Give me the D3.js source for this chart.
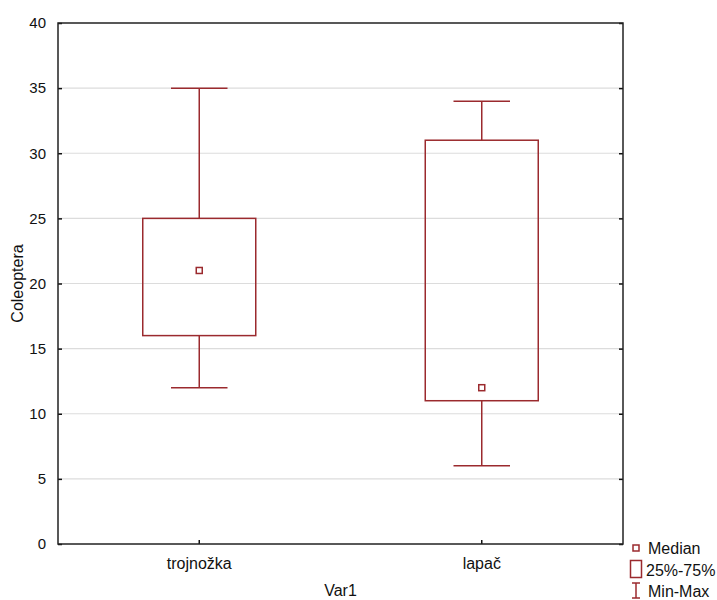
<!DOCTYPE html>
<html>
<head>
<meta charset="utf-8">
<script src="https://cdn.jsdelivr.net/npm/d3@7"></script>
<style>
  body { margin: 0; background: #fff; }
  text { font-family: "Liberation Sans", Arial, sans-serif; fill: #111; }
</style>
</head>
<body>
<div id="chart"></div>
<script>
const CATEGORIES = ["trojnožka", "lapač"];
const MIN    = [12, 6];
const Q1     = [16, 11];
const MEDIAN = [21, 12];
const Q3     = [25, 31];
const MAX    = [35, 34];
const Y_TICKS = [0, 5, 10, 15, 20, 25, 30, 35, 40];

const MARGIN = { top: 23, bottom: 56, left: 58, right: 94 };
const WIDTH = 717 - MARGIN.left - MARGIN.right;
const HEIGHT = 600 - MARGIN.top - MARGIN.bottom;
const COLOR = "#9b2a2e";

const boxes = CATEGORIES.map((c, i) => ({
    name: c, min: MIN[i], q1: Q1[i], median: MEDIAN[i], q3: Q3[i], max: MAX[i]
}));

const svg = d3.select("#chart")
    .append("svg")
        .attr("width", 717)
        .attr("height", 600);
const g = svg.append("g")
        .attr("transform", `translate(${MARGIN.left}, ${MARGIN.top})`);

// SCALES
const y = d3.scaleLinear()
    .domain([0, 40])
    .range([HEIGHT, 0]);
const x = d3.scaleBand()
    .domain(CATEGORIES)
    .range([0, WIDTH])
    .paddingInner(0)
    .paddingOuter(0);
const boxW = WIDTH * 0.2;
const capW = boxW / 2;

// GRID
g.append("g")
    .selectAll("line")
    .data(Y_TICKS.filter(t => t > 0 && t < 40))
    .enter().append("line")
        .attr("x1", 0).attr("x2", WIDTH)
        .attr("y1", d => y(d)).attr("y2", d => y(d))
        .attr("stroke", "#dcdcdc")
        .attr("stroke-width", 1.2);

// AXES (ticks inward)
const yAxis = g.append("g")
    .call(d3.axisLeft(y).tickValues(Y_TICKS).tickSize(-4).tickPadding(12));
yAxis.select(".domain").remove();
yAxis.selectAll("text").style("font-size", "15px");
yAxis.selectAll("line").attr("stroke", "#111").attr("stroke-width", 1.5);

const yAxisR = g.append("g")
    .attr("transform", `translate(${WIDTH}, 0)`)
    .call(d3.axisRight(y).tickValues(Y_TICKS).tickSize(-4).tickFormat(""));
yAxisR.select(".domain").remove();
yAxisR.selectAll("line").attr("stroke", "#111").attr("stroke-width", 1.5);

const xAxis = g.append("g")
    .attr("transform", `translate(0, ${HEIGHT})`)
    .call(d3.axisBottom(x).tickSize(-4).tickPadding(14));
xAxis.select(".domain").remove();
xAxis.selectAll("text").style("font-size", "16px");
xAxis.selectAll("line").attr("stroke", "#111").attr("stroke-width", 1.5);

// FRAME
g.append("rect")
    .attr("x", 0).attr("y", 0)
    .attr("width", WIDTH).attr("height", HEIGHT)
    .attr("fill", "none")
    .attr("stroke", "#222")
    .attr("stroke-width", 1.5);

// AXIS TITLES
g.append("text")
    .attr("x", WIDTH / 2)
    .attr("y", HEIGHT + 52)
    .attr("text-anchor", "middle")
    .style("font-size", "16px")
    .text("Var1");
g.append("text")
    .attr("transform", "rotate(-90)")
    .attr("x", -(y(20)))
    .attr("y", -35)
    .attr("text-anchor", "middle")
    .style("font-size", "16px")
    .text("Coleoptera");

// BOXES
const bx = g.selectAll(".box")
    .data(boxes)
    .enter().append("g")
        .attr("class", "box")
        .attr("transform", d => `translate(${x(d.name) + x.bandwidth() / 2}, 0)`);

bx.append("line")
    .attr("x1", 0).attr("x2", 0)
    .attr("y1", d => y(d.max)).attr("y2", d => y(d.q3))
    .attr("stroke", COLOR).attr("stroke-width", 1.5);
bx.append("line")
    .attr("x1", 0).attr("x2", 0)
    .attr("y1", d => y(d.q1)).attr("y2", d => y(d.min))
    .attr("stroke", COLOR).attr("stroke-width", 1.5);
bx.append("line")
    .attr("x1", -capW / 2).attr("x2", capW / 2)
    .attr("y1", d => y(d.max)).attr("y2", d => y(d.max))
    .attr("stroke", COLOR).attr("stroke-width", 1.5);
bx.append("line")
    .attr("x1", -capW / 2).attr("x2", capW / 2)
    .attr("y1", d => y(d.min)).attr("y2", d => y(d.min))
    .attr("stroke", COLOR).attr("stroke-width", 1.5);
bx.append("rect")
    .attr("x", -boxW / 2)
    .attr("y", d => y(d.q3))
    .attr("width", boxW)
    .attr("height", d => y(d.q1) - y(d.q3))
    .attr("fill", "none")
    .attr("stroke", COLOR).attr("stroke-width", 1.5);
bx.append("rect")
    .attr("x", -3)
    .attr("y", d => y(d.median) - 3)
    .attr("width", 6).attr("height", 6)
    .attr("fill", "#fff")
    .attr("stroke", COLOR).attr("stroke-width", 1.5);

// LEGEND
const lg = svg.append("g").attr("transform", "translate(630, 540)");
lg.append("rect")
    .attr("x", 3).attr("y", 5).attr("width", 6).attr("height", 6)
    .attr("fill", "#fff").attr("stroke", COLOR).attr("stroke-width", 1.5);
lg.append("text").attr("x", 18).attr("y", 14).style("font-size", "16px").text("Median");
lg.append("rect")
    .attr("x", 0.5).attr("y", 20.5).attr("width", 11).attr("height", 17)
    .attr("fill", "#fff").attr("stroke", COLOR).attr("stroke-width", 1.5);
lg.append("text").attr("x", 16).attr("y", 36).style("font-size", "16px").text("25%-75%");
lg.append("line")
    .attr("x1", 6).attr("x2", 6).attr("y1", 43).attr("y2", 58)
    .attr("stroke", COLOR).attr("stroke-width", 1.5);
lg.append("line")
    .attr("x1", 2).attr("x2", 10).attr("y1", 43).attr("y2", 43)
    .attr("stroke", COLOR).attr("stroke-width", 1.5);
lg.append("line")
    .attr("x1", 2).attr("x2", 10).attr("y1", 58).attr("y2", 58)
    .attr("stroke", COLOR).attr("stroke-width", 1.5);
lg.append("text").attr("x", 18).attr("y", 57).style("font-size", "16px").text("Min-Max");
</script>
</body>
</html>
